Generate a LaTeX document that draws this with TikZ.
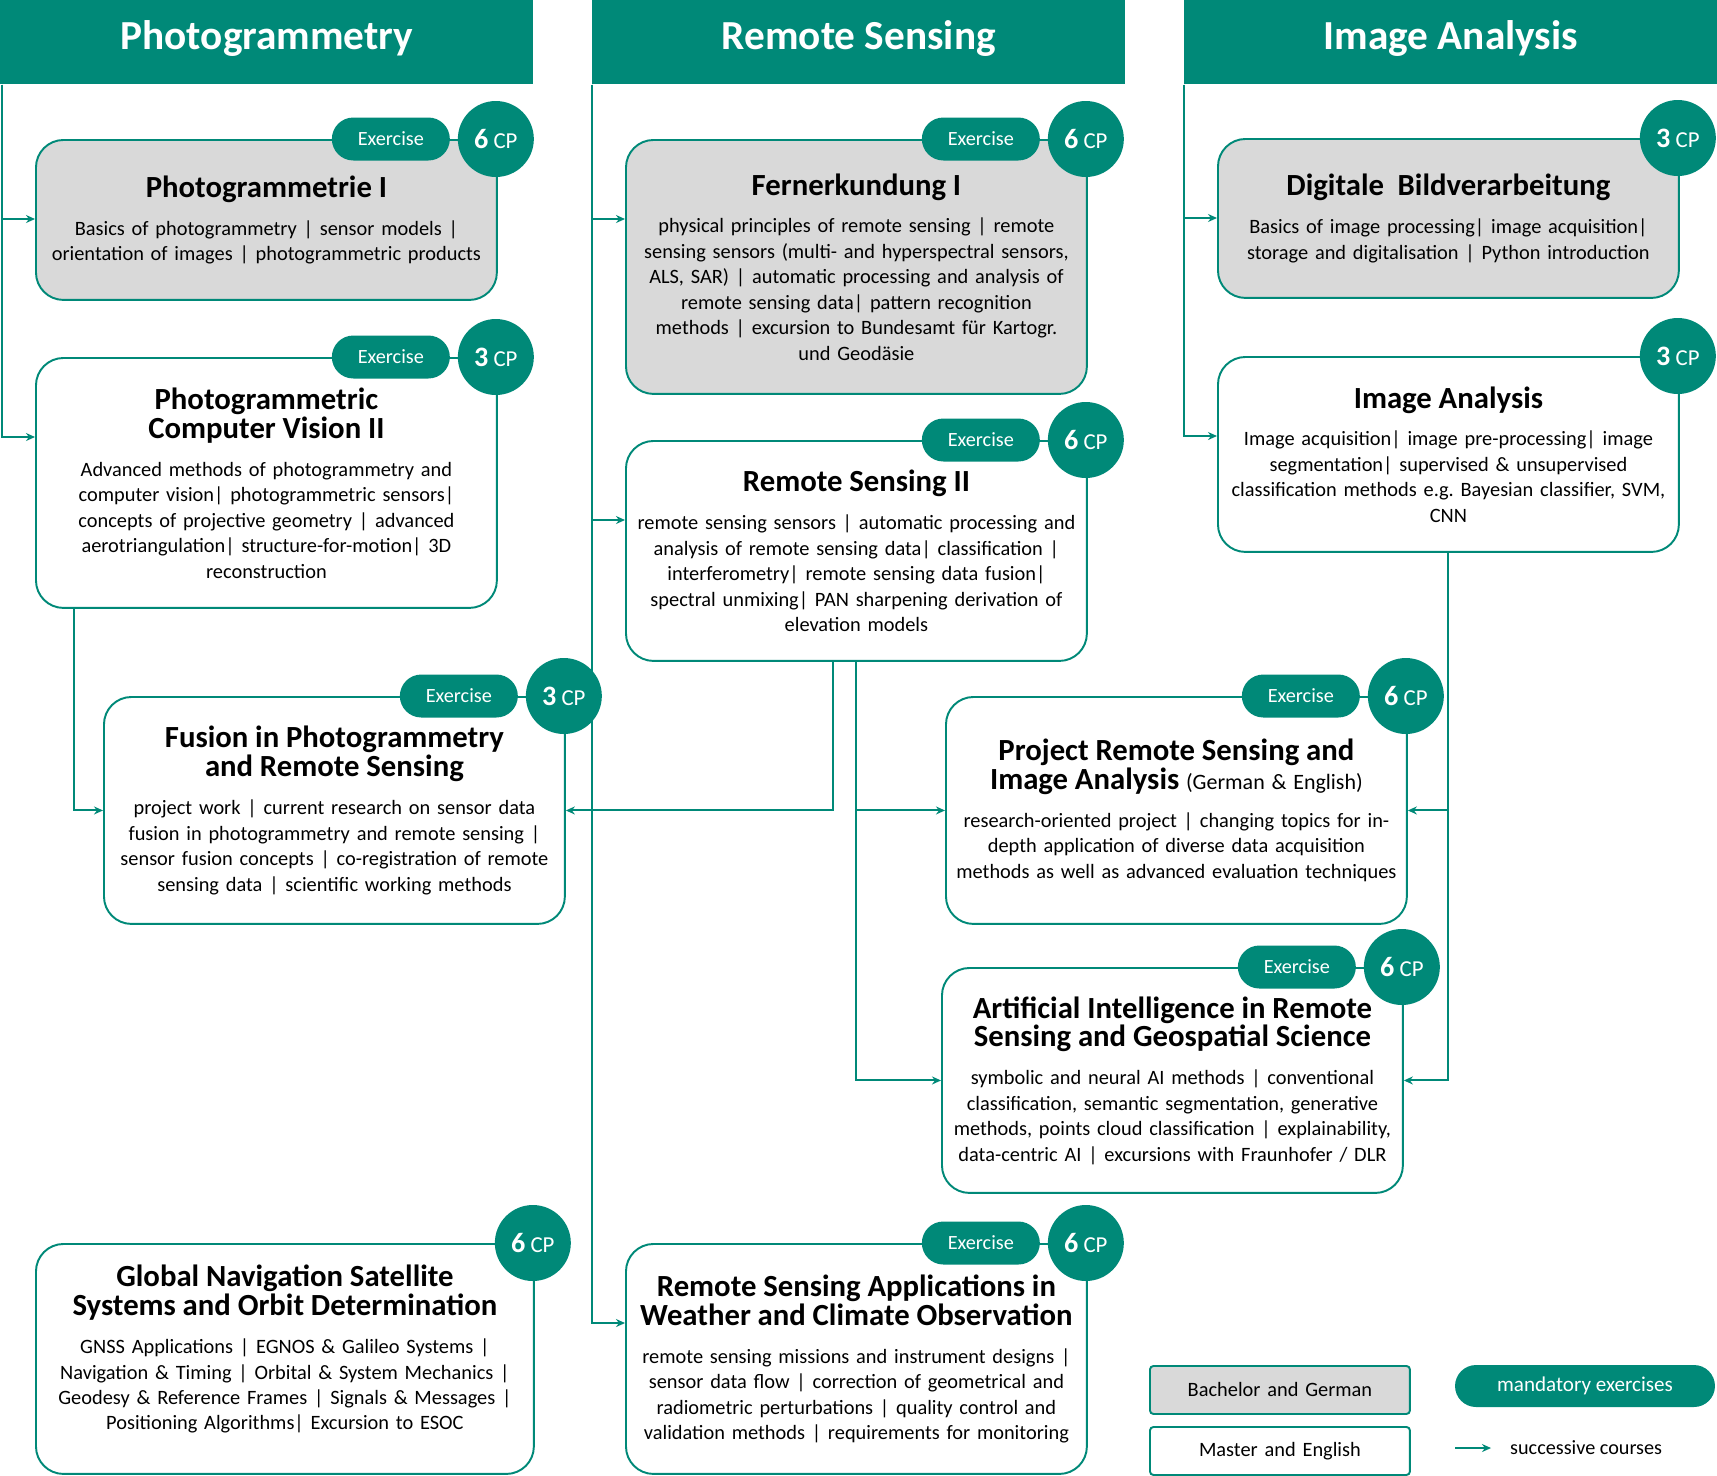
\documentclass[tikz,border=0pt]{standalone}
\usepackage{fontspec}
\setmainfont{Carlito}
\usepackage{xcolor}
\usepackage{tikz}
\usetikzlibrary{arrows.meta, positioning, calc}

\definecolor{unigreen}{RGB}{0,137,120}
\definecolor{unigray}{RGB}{217,217,217}

\newcommand{\ctitle}[1]{{\fontsize{17.5}{16.5}\selectfont\bfseries #1\par}\vspace{7pt}}
\newcommand{\cpval}[1]{{\fontsize{16}{16}\selectfont\bfseries #1} CP}
\frenchspacing

\begin{document}
\begin{tikzpicture}[
    x=0.02cm, y=-0.02cm,
    head/.style={rectangle, fill=unigreen, text=white, minimum width=10.66cm, minimum height=1.68cm,
                 text height=16pt, text depth=8pt,
                 font=\fontsize{23.5}{26}\selectfont\bfseries, anchor=north west, inner sep=0pt},
    course/.style={rectangle, draw=unigreen, line width=1.1pt, fill=#1, rounded corners=0.55cm,
                   minimum width=9.22cm, text width=9.2cm, inner xsep=0pt, inner ysep=4pt,
                   align=center, anchor=north west, font=\fontsize{11.6}{14.5}\selectfont},
    course/.default=white,
    exer/.style={rectangle, rounded corners=0.43cm, fill=unigreen, text=white, minimum width=2.36cm,
                 minimum height=0.86cm, inner sep=0pt, font=\fontsize{11.5}{12}\selectfont},
    cpdot/.style={circle, fill=unigreen, text=white, minimum size=1.52cm, inner sep=0pt,
                  font=\fontsize{13}{13}\selectfont},
    arr/.style={-{Stealth[length=1.8mm, width=1.6mm]}, draw=unigreen, line width=1.1pt},
]
\path[use as bounding box, fill=white] (0,0) rectangle (1717,1475);

% column headers
\node[head] (hpg) at (0,0) {Photogrammetry};
\node[head] (hrs) at (592,0) {Remote Sensing};
\node[head] (hia) at (1184,0) {Image Analysis};

% photogrammetry column
\node[course=unigray, minimum height=3.2cm] (p1) at (35,139) {\ctitle{Photogrammetrie I}
    Basics of photogrammetry | sensor models |\\ orientation of images | photogrammetric products};
\node[course, minimum height=5cm] (p2) at (35,357) {\ctitle{Photogrammetric\\Computer Vision II}
    Advanced methods of photogrammetry and\\ computer vision| photogrammetric sensors|\\
    concepts of projective geometry | advanced\\ aerotriangulation| structure-for-motion| 3D\\ reconstruction};
\node[course, minimum height=4.54cm] (fus) at (103,696) {\ctitle{Fusion in Photogrammetry\\and Remote Sensing}
    project work | current research on sensor data\\ fusion in photogrammetry and remote sensing |\\
    sensor fusion concepts | co-registration of remote\\ sensing data | scientific working methods};
\node[course, minimum height=4.6cm, minimum width=9.96cm, text width=9.9cm] (gnss) at (35,1243) {\ctitle{Global Navigation Satellite\\Systems and Orbit Determination}
    GNSS Applications | EGNOS \& Galileo Systems |\\ Navigation \& Timing | Orbital \& System Mechanics |\\
    Geodesy \& Reference Frames | Signals \& Messages |\\ Positioning Algorithms| Excursion to ESOC\rule[-13pt]{0pt}{13pt}};

% remote sensing column
\node[course=unigray, minimum height=5.08cm] (r1) at (625,139) {\ctitle{Fernerkundung I}
    physical principles of remote sensing | remote\\ sensing sensors (multi- and hyperspectral sensors,\\
    ALS, SAR) | automatic processing and analysis of\\ remote sensing data| pattern recognition\\
    methods | excursion to Bundesamt für Kartogr.\\ und Geodäsie};
\node[course, minimum height=4.4cm] (r2) at (625,440) {\ctitle{Remote Sensing II}
    remote sensing sensors | automatic processing and\\ analysis of remote sensing data| classification |\\
    interferometry| remote sensing data fusion|\\ spectral unmixing| PAN sharpening derivation of\\ elevation models};
\node[course, minimum height=4.6cm] (rsa) at (625,1243) {\ctitle{Remote Sensing Applications in\\Weather and Climate Observation}
    remote sensing missions and instrument designs |\\ sensor data flow | correction of geometrical and\\
    radiometric perturbations | quality control and\\ validation methods | requirements for monitoring};

% image analysis column
\node[course=unigray, minimum height=3.18cm] (i1) at (1217,138) {\ctitle{Digitale~~Bildverarbeitung}
    Basics of image processing| image acquisition|\\ storage and digitalisation | Python introduction};
\node[course, minimum height=3.9cm] (i2) at (1217,356) {\ctitle{Image Analysis}
    Image acquisition| image pre-processing| image\\ segmentation| supervised \& unsupervised\\
    classification methods e.g. Bayesian classifier, SVM,\\ CNN};
\node[course, minimum height=4.54cm] (proj) at (945,696) {\ctitle{Project Remote Sensing and\\Image Analysis {\normalfont\fontsize{12.5}{12.5}\selectfont(German \& English)}}
    research-oriented project | changing topics for in-\\ depth application of diverse data acquisition\\
    methods as well as advanced evaluation techniques};
\node[course, minimum height=4.5cm] (ai) at (941,967) {\ctitle{Artificial Intelligence in Remote\\Sensing and Geospatial Science}
    symbolic and neural AI methods | conventional\\ classification, semantic segmentation, generative\\
    methods, points cloud classification | explainability,\\ data-centric AI | excursions with Fraunhofer / DLR};

% successive courses
\draw[arr] ($(hpg.south west)+(2,0)$) |- ($(p1.north west)+(0,80)$);
\draw[arr] ($(hpg.south west)+(2,0)$) |- ($(p2.north west)+(0,80)$);
\draw[arr] (hrs.south west) |- ($(r1.north west)+(0,80)$);
\draw[arr] (hrs.south west) |- ($(r2.north west)+(0,80)$);
\draw[arr] (hrs.south west) |- ($(rsa.north west)+(0,80)$);
\draw[arr] (hia.south west) |- ($(i1.north west)+(0,80)$);
\draw[arr] (hia.south west) |- ($(i2.north west)+(0,80)$);
\draw[arr] ($(p2.south west)+(39,0)$) |- (fus.west);
\draw[arr] ($(r2.south)+(-23,0)$) |- (fus.east);
\draw[arr] (r2.south) |- (proj.west);
\draw[arr] (r2.south) |- (ai.west);
\draw[arr] (i2.south) |- (proj.east);
\draw[arr] (i2.south) |- (ai.east);

% exercise and credit badges
\node[exer] (p1ex) at ($(p1.north east)+(-107,0)$) {Exercise};
\node[cpdot] (p1cp) at ($(p1.north east)+(-2,0)$) {\cpval{6}};
\node[exer] (p2ex) at ($(p2.north east)+(-107,0)$) {Exercise};
\node[cpdot] (p2cp) at ($(p2.north east)+(-2,0)$) {\cpval{3}};
\node[exer] (fusex) at ($(fus.north east)+(-107,0)$) {Exercise};
\node[cpdot] (fuscp) at ($(fus.north east)+(-2,0)$) {\cpval{3}};
\node[cpdot] (gnsscp) at ($(gnss.north east)+(-2,0)$) {\cpval{6}};
\node[exer] (r1ex) at ($(r1.north east)+(-107,0)$) {Exercise};
\node[cpdot] (r1cp) at ($(r1.north east)+(-2,0)$) {\cpval{6}};
\node[exer] (r2ex) at ($(r2.north east)+(-107,0)$) {Exercise};
\node[cpdot] (r2cp) at ($(r2.north east)+(-2,0)$) {\cpval{6}};
\node[exer] (rsaex) at ($(rsa.north east)+(-107,0)$) {Exercise};
\node[cpdot] (rsacp) at ($(rsa.north east)+(-2,0)$) {\cpval{6}};
\node[cpdot] (i1cp) at ($(i1.north east)+(-2,0)$) {\cpval{3}};
\node[cpdot] (i2cp) at ($(i2.north east)+(-2,0)$) {\cpval{3}};
\node[exer] (projex) at ($(proj.north east)+(-107,0)$) {Exercise};
\node[cpdot] (projcp) at ($(proj.north east)+(-2,0)$) {\cpval{6}};
\node[exer] (aiex) at ($(ai.north east)+(-107,0)$) {Exercise};
\node[cpdot] (aicp) at ($(ai.north east)+(-2,0)$) {\cpval{6}};

% legend
\node[course=unigray, rounded corners=2pt, minimum width=5.2cm, text width=5.2cm, minimum height=0.96cm] (lgbach) at (1149,1365) {Bachelor and German};
\node[course, rounded corners=2pt, minimum width=5.2cm, text width=5.2cm, minimum height=0.96cm] (lgmast) at (1149,1426) {Master and English};
\node[exer, minimum width=5.2cm, minimum height=0.84cm, rounded corners=0.42cm, font=\fontsize{12}{12}\selectfont] (lgmand) at (1585,1386) {mandatory exercises};
\coordinate (lgarr) at (1455,1448);
\node[anchor=west, font=\fontsize{11.5}{12}\selectfont] (lgsucc) at (1504,1448) {successive courses};
\draw[arr, shorten >=0.26cm] (lgarr) -- (lgsucc.west);

\end{tikzpicture}
\end{document}
